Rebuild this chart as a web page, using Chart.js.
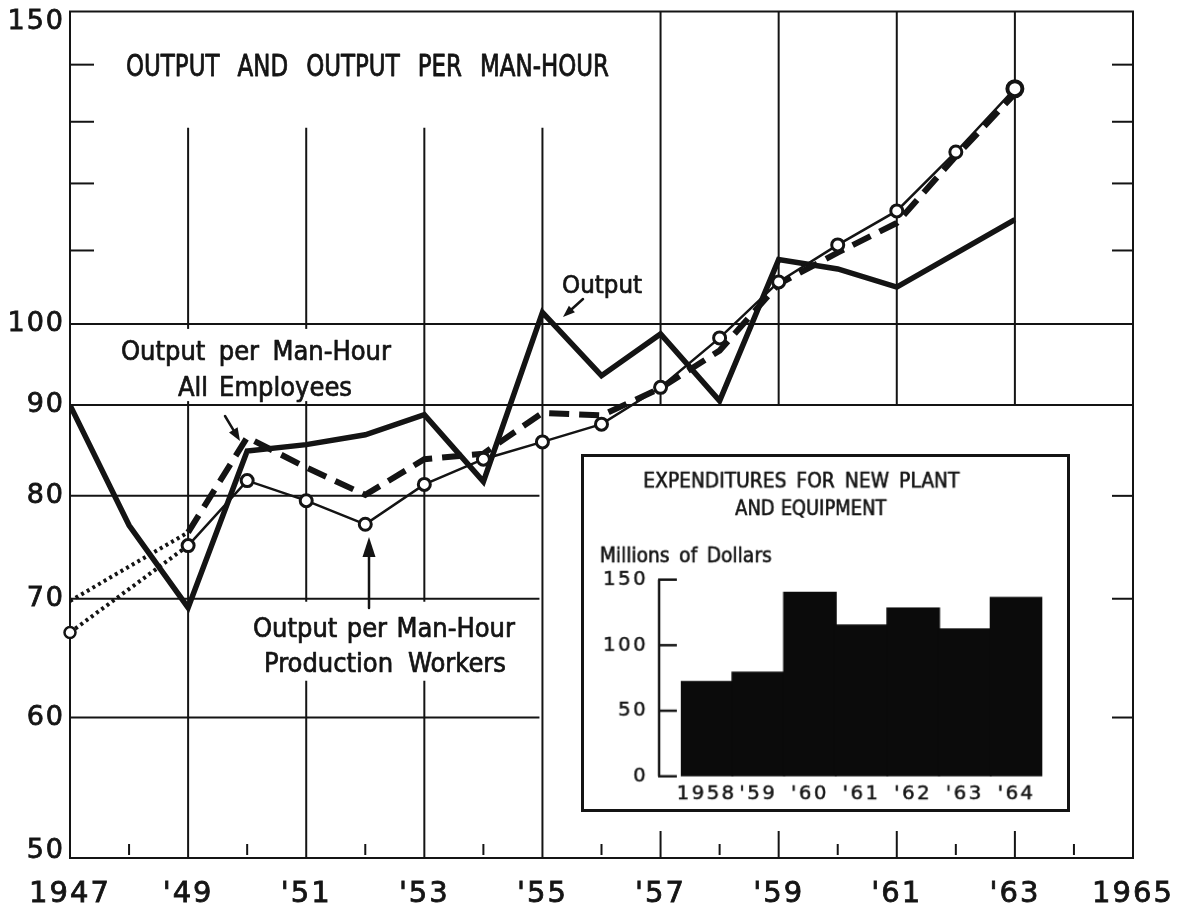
<!DOCTYPE html>
<html>
<head>
<meta charset="utf-8">
<script src="https://cdn.jsdelivr.net/npm/chart.js@4.4.1/dist/chart.umd.min.js"></script>
<style>
  html, body { margin: 0; padding: 0; background: #ffffff; }
  #wrap { position: relative; width: 1186px; height: 910px; overflow: hidden; }
  #main { position: absolute; left: 0; top: 0; }
  #inset { position: absolute; left: 581px; top: 454px; border: 3px solid #141414; background: #ffffff; }
</style>
</head>
<body>
<div id="wrap">
  <canvas id="main" width="1186" height="910" style="width:1186px;height:910px"></canvas>
  <canvas id="inset" width="489" height="358" style="width:489px;height:358px"></canvas>
</div>
<script>
// ---------------- DATA ----------------
const years = [1947, 1948, 1949, 1950, 1951, 1952, 1953, 1954, 1955, 1956, 1957, 1958, 1959, 1960, 1961, 1962, 1963];
// Output index (thick solid line)
const outputValues = [90.0, 77.0, 69.2, 84.8, 85.5, 86.6, 88.9, 81.5, 101.5, 93.5, 98.7, 90.5, 108.7, 107.4, 104.9, 109.6, 114.5];
// Output per man-hour, all employees (thick dashed; dotted 1947-49)
const allEmployeesValues = [69.8, null, 76.3, 86.3, 83.0, 80.1, 83.9, 84.5, 89.1, 88.8, 92.0, 96.6, 105.3, 109.7, 114.0, 124.3, 134.8];
// Output per man-hour, production workers (thin line with circles; dotted 1947-49)
const productionWorkersValues = [67.0, null, 75.0, 81.6, 79.5, 77.1, 81.2, 83.9, 85.8, 87.8, 92.1, 98.2, 105.6, 110.8, 115.8, 125.0, 135.7];
const estimatedThroughYear = 1949;

const yTickValues = [50, 60, 70, 80, 90, 100, 150];
const xTickYears = [1947, 1949, 1951, 1953, 1955, 1957, 1959, 1961, 1963, 1965];
const xTickLabels = ['1947', "'49", "'51", "'53", "'55", "'57", "'59", "'61", "'63", '1965'];

// Inset: expenditures for new plant and equipment (millions of dollars)
const insetYears = ['1958', "'59", "'60", "'61", "'62", "'63", "'64"];
const insetExpenditures = [72, 79, 140, 115, 128, 112, 136];
const insetYTicks = [0, 50, 100, 150];

// ---------------- STYLE ----------------
const INK = '#141414';
const FONT_NUM = "'DejaVu Sans', 'Liberation Sans', sans-serif";
const FONT_TXT = "'DejaVu Sans Condensed', 'Liberation Sans Narrow', 'DejaVu Sans', sans-serif";

function toPoints(vals) {
  return years.map((yr, i) => ({ x: yr, y: vals[i] })).filter(p => p.y !== null);
}
function estPart(vals) { return toPoints(vals).filter(p => p.x <= estimatedThroughYear); }
function mainPart(vals) { return toPoints(vals).filter(p => p.x >= estimatedThroughYear); }

function drawWords(ctx, text, x, y, o) {
  ctx.save();
  ctx.font = (o.weight || 'normal') + ' ' + o.size + 'px ' + FONT_TXT;
  ctx.letterSpacing = '0px';
  ctx.fillStyle = INK;
  ctx.strokeStyle = INK;
  ctx.lineWidth = o.stroke || 0.7;
  ctx.lineJoin = 'round';
  ctx.textAlign = 'left';
  ctx.textBaseline = 'alphabetic';
  const words = text.split(' ');
  let sx = o.scaleX || 1;
  const nat = words.map(w => ctx.measureText(w).width);
  const natSum = nat.reduce((a, b) => a + b, 0);
  let gap = 0;
  if (words.length === 1) {
    sx = o.width / nat[0];
  } else {
    const minGap = o.size * 0.3;
    gap = (o.width - natSum * sx) / (words.length - 1);
    if (gap < minGap) {
      gap = minGap;
      sx = (o.width - minGap * (words.length - 1)) / natSum;
    }
  }
  let cx = x;
  words.forEach((w, i) => {
    ctx.save();
    ctx.translate(cx, y);
    ctx.scale(sx, 1);
    ctx.fillText(w, 0, 0);
    ctx.strokeText(w, 0, 0);
    ctx.restore();
    cx += nat[i] * sx + gap;
  });
  ctx.restore();
}

function arrow(ctx, x1, y1, x2, y2, headLen, headW, lw) {
  ctx.save();
  ctx.strokeStyle = INK; ctx.fillStyle = INK; ctx.lineWidth = lw; ctx.lineCap = 'round';
  const ang = Math.atan2(y2 - y1, x2 - x1);
  const bx = x2 - headLen * Math.cos(ang), by = y2 - headLen * Math.sin(ang);
  ctx.beginPath(); ctx.moveTo(x1, y1); ctx.lineTo(bx, by); ctx.stroke();
  ctx.beginPath();
  ctx.moveTo(x2, y2);
  ctx.lineTo(bx + headW * Math.sin(ang), by - headW * Math.cos(ang));
  ctx.lineTo(bx - headW * Math.sin(ang), by + headW * Math.cos(ang));
  ctx.closePath(); ctx.fill();
  ctx.restore();
}

const mainDecor = {
  id: 'mainDecor',
  beforeDraw(chart) { chart.ctx.letterSpacing = '2px'; },
  beforeDatasetsDraw(chart) {
    const { ctx, chartArea: a, scales: { x, y } } = chart;
    const X = v => x.getPixelForValue(v), Y = v => y.getPixelForValue(v);
    ctx.save();
    ctx.letterSpacing = '0px';
    ctx.strokeStyle = INK; ctx.lineWidth = 2; ctx.lineCap = 'butt';
    const seg = (x1, y1, x2, y2) => { ctx.beginPath(); ctx.moveTo(x1, y1); ctx.lineTo(x2, y2); ctx.stroke(); };
    // frame
    ctx.strokeRect(a.left, a.top, a.right - a.left, a.bottom - a.top);
    // horizontal rules
    [90, 100].forEach(v => seg(a.left, Y(v), a.right, Y(v)));
    [60, 70, 80].forEach(v => { seg(a.left, Y(v), X(1955) - 3, Y(v)); seg(a.right - 21, Y(v), a.right, Y(v)); });
    [110, 120, 130, 140].forEach(v => { seg(a.left, Y(v), a.left + 24, Y(v)); seg(a.right - 21, Y(v), a.right, Y(v)); });
    // vertical rules
    [1949, 1951, 1953, 1955].forEach(v => seg(X(v), Y(129), X(v), a.bottom));
    [1957, 1959, 1961, 1963].forEach(v => { seg(X(v), a.top, X(v), Y(90)); seg(X(v), a.bottom - 27, X(v), a.bottom); });
    for (let v = 1948; v <= 1964; v += 2) seg(X(v), a.bottom - 14, X(v), a.bottom - 3);
    // white boxes behind the labels
    ctx.fillStyle = '#ffffff';
    ctx.fillRect(114, Y(100) + 5, 286, Y(90) - Y(100) - 9);
    ctx.fillRect(247, Y(70) + 3, 276, 79);
    // labels
    drawWords(ctx, 'OUTPUT AND OUTPUT PER MAN-HOUR', 126, 76, { size: 30, width: 483, scaleX: 0.85, stroke: 0.8 });
    drawWords(ctx, 'Output', 562, 293, { size: 25, width: 80 });
    drawWords(ctx, 'Output per Man-Hour', 121, 360, { size: 27, width: 270 });
    drawWords(ctx, 'All Employees', 178, 396, { size: 27, width: 174 });
    drawWords(ctx, 'Output per Man-Hour', 253, 637, { size: 27, width: 262 });
    drawWords(ctx, 'Production Workers', 264, 672, { size: 27, width: 242 });
    // arrows
    arrow(ctx, 583, 299, 563, 317, 12, 4.5, 2.5);
    arrow(ctx, 225, 416, 240, 441, 13, 5, 2.5);
    arrow(ctx, 369, 608, 369, 537, 20, 6.5, 2.5);
    ctx.restore();
  }
};

const yTop = yTickValues[yTickValues.length - 1], yBottom = yTickValues[0];

new Chart(document.getElementById('main'), {
  type: 'line',
  data: {
    datasets: [
      {
        label: 'Output per Man-Hour, Production Workers',
        data: mainPart(productionWorkersValues),
        borderColor: INK, borderWidth: 2.5, tension: 0, clip: 10,
        pointRadius: c => (c.dataIndex === c.dataset.data.length - 1 ? 7.5 : 6),
        pointBorderWidth: c => (c.dataIndex === c.dataset.data.length - 1 ? 4 : 3),
        pointBackgroundColor: '#ffffff', pointBorderColor: INK, order: 0
      },
      {
        label: 'Production Workers (estimated)',
        data: estPart(productionWorkersValues),
        borderColor: INK, borderWidth: 4, borderDash: [3, 3.5], borderCapStyle: 'butt', tension: 0, clip: 10,
        pointRadius: c => (c.dataIndex === 0 ? 5.5 : 0),
        pointBorderWidth: 2.5, pointBackgroundColor: '#ffffff', pointBorderColor: INK, order: 1
      },
      {
        label: 'Output per Man-Hour, All Employees',
        data: mainPart(allEmployeesValues),
        borderColor: INK, borderWidth: 6, borderDash: [20, 10], borderCapStyle: 'butt', tension: 0,
        pointRadius: 0, order: 2
      },
      {
        label: 'All Employees (estimated)',
        data: estPart(allEmployeesValues),
        borderColor: INK, borderWidth: 4, borderDash: [3, 3.5], borderCapStyle: 'butt', tension: 0,
        pointRadius: 0, order: 3
      },
      {
        label: 'Output',
        data: toPoints(outputValues),
        borderColor: INK, borderWidth: 5.5, borderJoinStyle: 'miter', tension: 0,
        pointRadius: 0, order: 4
      }
    ]
  },
  options: {
    responsive: false, animation: false, events: [], devicePixelRatio: 1,
    layout: { padding: { top: 10, right: 53, left: 0, bottom: 0 } },
    plugins: { legend: { display: false }, tooltip: { enabled: false }, title: { display: false } },
    scales: {
      x: {
        type: 'linear', min: 1947, max: 1965,
        afterBuildTicks: s => { s.ticks = xTickYears.map(v => ({ value: v })); },
        afterFit: s => { s.height = 52; s.paddingLeft = 0; s.paddingRight = 0; },
        grid: { display: false, drawTicks: false }, border: { display: false },
        ticks: {
          autoSkip: false, maxRotation: 0, minRotation: 0, padding: 19, color: INK,
          textStrokeColor: INK, textStrokeWidth: 0.8,
          font: { family: FONT_NUM, size: 29 },
          callback: v => xTickLabels[xTickYears.indexOf(v)]
        }
      },
      y: {
        type: 'logarithmic', min: 50, max: 150,
        afterBuildTicks: s => { s.ticks = yTickValues.map(v => ({ value: v })); },
        afterFit: s => { s.width = 70; s.paddingTop = 0; s.paddingBottom = 0; },
        grid: { display: false, drawTicks: false }, border: { display: false },
        ticks: {
          autoSkip: false, padding: 5, color: INK,
          textStrokeColor: INK, textStrokeWidth: 0.8,
          font: c => ({
            family: FONT_NUM, size: 27,
            lineHeight: c.tick && c.tick.value === yTop ? 0.8 : (c.tick && c.tick.value === yBottom ? 0.5 : 1.2)
          }),
          // the end labels sit just inside the frame, as in the original
          callback: v => (v === yTop ? ['', String(v)] : v === yBottom ? [String(v), ''] : String(v))
        }
      }
    }
  },
  plugins: [mainDecor]
});

// ---------------- INSET ----------------
const insetDecor = {
  id: 'insetDecor',
  beforeDraw(chart) { chart.ctx.letterSpacing = '2.5px'; },
  afterDatasetsDraw(chart) {
    const { ctx, chartArea: a, scales: { y } } = chart;
    const Y = v => y.getPixelForValue(v);
    ctx.save();
    ctx.letterSpacing = '0px';
    ctx.strokeStyle = INK; ctx.lineWidth = 2.5;
    const seg = (x1, y1, x2, y2) => { ctx.beginPath(); ctx.moveTo(x1, y1); ctx.lineTo(x2, y2); ctx.stroke(); };
    const ax = a.left - 22;
    seg(ax, Y(insetYTicks[insetYTicks.length - 1]), ax, Y(insetYTicks[0]));
    insetYTicks.forEach(v => seg(ax - 1, Y(v), ax + 18, Y(v)));
    drawWords(ctx, 'EXPENDITURES FOR NEW PLANT', 60, 31, { size: 21, width: 320, stroke: 0.6 });
    drawWords(ctx, 'AND EQUIPMENT', 153, 59, { size: 21, width: 153, stroke: 0.6 });
    drawWords(ctx, 'Millions of Dollars', 16, 107, { size: 21, width: 174, stroke: 0.6 });
    ctx.restore();
  }
};

new Chart(document.getElementById('inset'), {
  type: 'bar',
  data: {
    labels: insetYears,
    datasets: [{
      label: 'Expenditures for new plant and equipment',
      data: insetExpenditures,
      backgroundColor: '#0b0b0b', borderWidth: 0, inflateAmount: 1,
      barPercentage: 1, categoryPercentage: 1
    }]
  },
  options: {
    responsive: false, animation: false, events: [], devicePixelRatio: 1,
    layout: { padding: { top: 124.7, right: 25, left: 0, bottom: 0 } },
    plugins: { legend: { display: false }, tooltip: { enabled: false } },
    scales: {
      x: {
        grid: { display: false, drawTicks: false }, border: { display: false },
        afterFit: s => { s.height = 33.3; s.paddingLeft = 0; s.paddingRight = 0; },
        ticks: { autoSkip: false, maxRotation: 0, padding: 6, color: INK, textStrokeColor: INK, textStrokeWidth: 0.5, font: { family: FONT_NUM, size: 20 } }
      },
      y: {
        min: 0, max: 150,
        afterBuildTicks: s => { s.ticks = insetYTicks.map(v => ({ value: v })); },
        afterFit: s => { s.width = 98; s.paddingTop = 0; s.paddingBottom = 0; },
        grid: { display: false, drawTicks: false }, border: { display: false },
        ticks: { padding: 33, color: INK, textStrokeColor: INK, textStrokeWidth: 0.5, font: { family: FONT_NUM, size: 20 }, callback: v => String(v) }
      }
    }
  },
  plugins: [insetDecor]
});
</script>
</body>
</html>
